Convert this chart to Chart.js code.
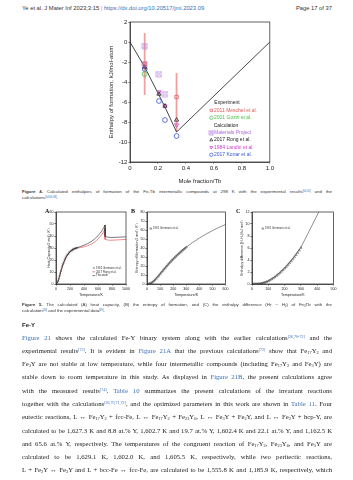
<!DOCTYPE html>
<html>
<head>
<meta charset="utf-8">
<title>Fe-Tb enthalpy of formation</title>
<script src="https://cdn.jsdelivr.net/npm/chart.js@4.4.1/dist/chart.umd.min.js"></script>
<style>
  html, body { margin: 0; padding: 0; background: #fff; }
  body { width: 353px; height: 480px; position: relative; overflow: hidden;
         font-family: "Liberation Sans", Arial, sans-serif; color: #333; }
  .box { position: absolute; }
  canvas { display: block; }
  .blue { color: #3a6fb5; }
  #hdr { left: 22px; top: 5px; font-size: 5.8px; line-height: 6px; white-space: nowrap; }
  #page { right: 21px; top: 5px; font-size: 5.8px; line-height: 6px; white-space: nowrap; }
  .cap { left: 22px; width: 310px; font-size: 4.4px; color: #333; }
  .cap div, .txt div { white-space: nowrap; }
  .cap div { height: 5.5px; line-height: 5.5px; }
  sup { font-size: 60%; line-height: 0; vertical-align: 0.5em; }
  sub { font-size: 65%; line-height: 0; vertical-align: -0.3em; }
  .lbl { font: bold 6px "Liberation Serif", serif; color: #111; }
  #fey { left: 22px; top: 322px; font: bold 6px "Liberation Sans", sans-serif; color: #222; }
  .txt { left: 22px; top: 330.5px; width: 310px; font: 6.7px "Liberation Serif", serif; color: #222; }
  .txt div { height: 13.3px; line-height: 13.3px; }
</style>
</head>
<body>

<div id="hdr" class="box">Ye et al. J Mater Inf 2023;3:15 <span style="color:#999">|</span> <span class="blue">https://dx.doi.org/10.20517/jmi.2023.09</span></div>
<div id="page" class="box">Page 17 of 37</div>

<canvas id="fig4" class="box" style="left:95px;top:12px" width="180" height="173"></canvas>

<div class="box cap" style="top:189px">
<div class="j"><b>Figure 4.</b> Calculated enthalpies of formation of the Fe-Tb intermetallic compounds at 298 K with the experimental results<sup class="blue">[64,65]</sup> and the</div>
<div>calculations<sup class="blue">[44,66-68]</sup>.</div>
</div>

<canvas id="figA" class="box" style="left:38px;top:206px" width="93" height="92"></canvas>
<canvas id="figB" class="box" style="left:126px;top:206px" width="104" height="92"></canvas>
<canvas id="figC" class="box" style="left:230px;top:206px" width="108" height="92"></canvas>
<div class="box lbl" style="left:45px;top:208px">A</div>
<div class="box lbl" style="left:131px;top:208px">B</div>
<div class="box lbl" style="left:236px;top:208px">C</div>

<div class="box cap" style="top:302px">
<div class="j"><b>Figure 5.</b> The calculated (A) heat capacity, (B) the entropy of formation, and (C) the enthalpy difference (<i>H</i><sub>T</sub> &minus; <i>H</i><sub>0</sub>) of Fe<sub>3</sub>Tb with the</div>
<div>calculation<sup class="blue">[44]</sup> and the experimental data<sup class="blue">[69]</sup>.</div>
</div>

<div id="fey" class="box">Fe-Y</div>
<div class="box txt">
<div class="j"><span class="blue">Figure 21</span> shows the calculated Fe-Y binary system along with the earlier calculations<sup class="blue">[26,70-72]</sup> and the</div>
<div class="j">experimental results<sup class="blue">[73]</sup>. It is evident in <span class="blue">Figure 21A</span> that the previous calculations<sup class="blue">[72]</sup> show that Fe<sub>17</sub>Y<sub>2</sub> and</div>
<div class="j">Fe<sub>3</sub>Y are not stable at low temperature, while four intermetallic compounds (including Fe<sub>17</sub>Y<sub>2</sub> and Fe<sub>3</sub>Y) are</div>
<div class="j">stable down to room temperature in this study. As displayed in <span class="blue">Figure 21B</span>, the present calculations agree</div>
<div class="j">with the measured results<sup class="blue">[74]</sup>. <span class="blue">Table 10</span> summarizes the present calculations of the invariant reactions</div>
<div class="j">together with the calculations<sup class="blue">[26,70,71,72]</sup>, and the optimized parameters in this work are shown in <span class="blue">Table 11</span>. Four</div>
<div class="j">eutectic reactions, L &harr; Fe<sub>17</sub>Y<sub>2</sub> + fcc-Fe, L &harr; Fe<sub>17</sub>Y<sub>2</sub> + Fe<sub>23</sub>Y<sub>6</sub>, L &harr; Fe<sub>3</sub>Y + Fe<sub>2</sub>Y, and L &harr; Fe<sub>2</sub>Y + hcp-Y, are</div>
<div class="j">calculated to be 1,627.3 K and 8.8 at.% Y, 1,602.7 K and 19.7 at.% Y, 1,602.4 K and 22.1 at.% Y, and 1,162.5 K</div>
<div class="j">and 65.6 at.% Y, respectively. The temperatures of the congruent reaction of Fe<sub>17</sub>Y<sub>2</sub>, Fe<sub>23</sub>Y<sub>6</sub>, and Fe<sub>3</sub>Y are</div>
<div class="j">calculated to be 1,629.1 K, 1,602.0 K, and 1,605.5 K, respectively, while two peritectic reactions,</div>
<div class="j">L + Fe<sub>2</sub>Y &harr; Fe<sub>3</sub>Y and L + bcc-Fe &harr; fcc-Fe, are calculated to be 1,555.8 K and 1,185.9 K, respectively, which</div>
</div>

<script>
// ---- Figure 4: enthalpy of formation (kJ/mol-atom) vs mole fraction Tb ----
const hullX = [0, 0.105, 0.207, 0.25, 0.333, 1];
const hullY = [0, -2.5, -5.3, -6.5, -9.0, 0];

const meschelX = [0.105, 0.333];
const meschelY = [-2.2, -5.5];
const meschelLo = [-5.3, -9.0];
const meschelHi = [0.9, -3.1];

const gozziX = [0.105];
const gozziY = [-3.2];
const gozziLo = [-3.7];
const gozziHi = [-2.7];

const mpX = [0.105, 0.105, 0.207, 0.25];
const mpY = [-0.4, -2.2, -3.2, -5.2];

const rongX = [0.105, 0.207, 0.25, 0.333];
const rongY = [-2.5, -5.2, -6.4, -7.8];

const landinX = [0.207, 0.25, 0.333];
const landinY = [-5.0, -6.4, -8.3];

const konarX = [0.105, 0.207, 0.25, 0.333];
const konarY = [-2.7, -5.9, -7.8, -9.4];

// ---- Figure 5A: heat capacity ----
const germanoT = [10, 20, 30, 40, 50, 60, 70, 80, 90, 100, 110, 120, 130, 140, 150,
                  160, 170, 180, 190, 200, 210, 220, 230, 240, 250, 260, 270, 280, 290, 300];
const germanoCp = [0.3, 1.2, 2.6, 4.5, 6.6, 8.8, 10.9, 12.9, 14.8, 16.5, 18.1, 19.6, 20.9, 22.1, 23.1,
                   24.0, 24.9, 25.6, 26.3, 26.9, 27.4, 27.9, 28.3, 28.7, 29.0, 29.3, 29.6, 29.8, 30.0, 30.2];
const cpT = [0, 25, 50, 75, 100, 150, 200, 250, 300, 350, 400, 450, 500, 550, 600, 650, 690, 700, 701, 750, 800, 900, 1000];
const cpThisWork = [0, 1.4, 6.2, 11.8, 16.5, 23.1, 26.9, 29.0, 30.2, 31.2, 32.3, 33.6, 35.2, 37.4, 40.2, 43.8, 47.8, 49.2, 39.6, 38.9, 38.8, 39.0, 39.3];
const cpRong = [0, 1.4, 6.2, 11.8, 16.5, 23.1, 26.9, 29.0, 30.0, 30.4, 31.0, 31.8, 33.0, 34.9, 37.5, 40.8, 44.6, 46.2, 37.2, 36.5, 36.5, 36.8, 37.2];

// ---- Figure 5B: entropy ----
const germanoS = [0.1, 0.4, 1.0, 1.9, 3.1, 4.4, 5.9, 7.6, 9.3, 11.1, 12.9, 14.7, 16.4, 18.1, 19.8,
                  21.5, 23.1, 24.7, 26.2, 27.7, 29.2, 30.6, 32.0, 33.4, 34.7, 36.0, 37.3, 38.5, 39.7, 40.9];
const sT = [0, 25, 50, 75, 100, 150, 200, 250, 300, 350, 400, 450, 500, 550, 600];
const sThisWork = [0, 0.1, 3.0, 7.0, 11.1, 19.8, 27.7, 34.7, 40.9, 46.3, 51.1, 55.4, 59.3, 62.9, 66.2];

// ---- Figure 5C: enthalpy difference ----
const germanoH = [0, 0.01, 0.02, 0.04, 0.07, 0.12, 0.19, 0.28, 0.38, 0.5, 0.64, 0.8, 0.97, 1.16, 1.37,
                  1.59, 1.82, 2.07, 2.33, 2.6, 2.88, 3.18, 3.49, 3.81, 4.14, 4.48, 4.84, 5.21, 5.62, 6.05];
const hT = [0, 50, 100, 150, 200, 250, 300, 350, 400, 410];
const hThisWork = [0, 0.07, 0.5, 1.4, 2.65, 4.25, 6.1, 8.8, 11.5, 12.0];

Chart.defaults.animation = false;
Chart.defaults.font.family = '"Liberation Sans", Arial, sans-serif';
Chart.defaults.color = '#222';

const pts = (xs, ys) => xs.map((x, i) => ({ x: x, y: ys[i] }));
const clear = 'rgba(0,0,0,0)';

// stretch each text line to the column width with word spacing
function justify(width) {
  document.querySelectorAll('.j').forEach(el => {
    const r = document.createRange();
    r.selectNodeContents(el);
    const natural = r.getBoundingClientRect().width;
    const spaces = (el.textContent.match(/ /g) || []).length;
    if (spaces) el.style.wordSpacing = ((width - natural) / spaces) + 'px';
  });
}
justify(310);

// square with a cross in it, used as a point style
function boxX(color, r) {
  const s = Math.ceil(r * 2 + 2);
  const c = document.createElement('canvas');
  c.width = s; c.height = s;
  const g = c.getContext('2d');
  g.strokeStyle = color; g.lineWidth = 0.55;
  g.strokeRect(1, 1, s - 2, s - 2);
  g.beginPath();
  g.moveTo(1, 1); g.lineTo(s - 1, s - 1);
  g.moveTo(s - 1, 1); g.lineTo(1, s - 1);
  g.stroke();
  return c;
}

const frame = {
  id: 'frame',
  afterDraw(chart) {
    const { ctx, chartArea: a } = chart;
    ctx.save();
    ctx.strokeStyle = '#222';
    ctx.lineWidth = 0.7;
    ctx.strokeRect(a.left, a.top, a.right - a.left, a.bottom - a.top);
    ctx.restore();
  }
};

function keyPlugin(items, x0, y0, rowH, size) {
  return {
    id: 'key',
    afterDraw(chart) {
      const ctx = chart.ctx;
      ctx.save();
      ctx.font = size + 'px "Liberation Sans", Arial, sans-serif';
      ctx.textBaseline = 'middle';
      items.forEach((it, i) => {
        const y = y0 + i * rowH;
        if (it.header) {
          ctx.fillStyle = '#222';
          ctx.textAlign = 'center';
          ctx.fillText(it.text, it.cx, y);
          return;
        }
        ctx.textAlign = 'left';
        ctx.strokeStyle = it.color;
        if (it.line) {
          ctx.lineWidth = 0.6;
          ctx.beginPath();
          ctx.moveTo(x0 - size * 1.3, y);
          ctx.lineTo(x0 - 0.8, y);
          ctx.stroke();
        } else {
          ctx.fillStyle = clear;
          ctx.lineWidth = it.bw;
          Chart.helpers.drawPoint(ctx, { pointStyle: it.style, rotation: it.rot || 0, radius: it.r, borderWidth: it.bw }, x0 - it.r - 1, y);
        }
        ctx.fillStyle = it.textColor || it.color;
        ctx.fillText(it.text, x0, y);
      });
      ctx.restore();
    }
  };
}

function axis(min, max, step, size, fix, title, titlePad, fmt) {
  return {
    type: 'linear', min: min, max: max,
    afterFit: fix,
    ticks: { stepSize: step, autoSkip: false, maxRotation: 0, padding: 1, font: { size: size },
             callback: fmt || (v => String(v)) },
    grid: { drawOnChartArea: false, tickLength: 1.6, color: '#222', lineWidth: 0.6 },
    border: { color: '#222', width: 0.7 },
    title: { display: true, text: title, font: { size: size }, padding: titlePad }
  };
}

// ---------- Figure 4 ----------
const red = '#e05a5a', green = '#4cbf4c', purple = '#a868dc', magenta = '#d23ad2', blue = '#3a55d8';
const mpSym = boxX(purple, 2.4);

const fig4Sets = [];
meschelX.forEach((x, i) => fig4Sets.push({
  data: [{ x: x, y: meschelLo[i] }, { x: x, y: meschelHi[i] }],
  showLine: true, borderColor: 'rgba(240,150,150,0.9)', borderWidth: 1.8, pointRadius: 0, order: 10
}));
gozziX.forEach((x, i) => fig4Sets.push({
  data: [{ x: x, y: gozziLo[i] }, { x: x, y: gozziHi[i] }],
  showLine: true, borderColor: 'rgba(140,220,140,0.9)', borderWidth: 1.8, pointRadius: 0, order: 10
}));
fig4Sets.push({ data: pts(hullX, hullY), showLine: true, borderColor: '#333', borderWidth: 0.9, pointRadius: 0, order: 9 });
fig4Sets.push({ data: pts(meschelX, meschelY), pointStyle: 'rect', pointRadius: 2.4, borderColor: red, backgroundColor: clear, borderWidth: 0.8, order: 1 });
fig4Sets.push({ data: pts(gozziX, gozziY), pointStyle: 'circle', pointRadius: 2.4, borderColor: green, backgroundColor: clear, borderWidth: 0.8, order: 1 });
fig4Sets.push({ data: pts(mpX, mpY), pointStyle: mpSym, pointRadius: 2.4, borderColor: purple, order: 1 });
fig4Sets.push({ data: pts(rongX, rongY), pointStyle: 'triangle', pointRadius: 2.4, borderColor: '#222', backgroundColor: clear, borderWidth: 0.8, order: 1 });
fig4Sets.push({ data: pts(landinX, landinY), pointStyle: 'triangle', rotation: 180, pointRadius: 2.4, borderColor: magenta, backgroundColor: clear, borderWidth: 0.8, order: 1 });
fig4Sets.push({ data: pts(konarX, konarY), pointStyle: 'circle', pointRadius: 2.4, borderColor: blue, backgroundColor: clear, borderWidth: 0.8, order: 1 });

const fig4Key = [
  { header: true, text: 'Experiment', cx: 132 },
  { text: '2011 Meschel et al.', color: red, style: 'rect', r: 1.7, bw: 0.7 },
  { text: '2001 Gozzi et al.', color: green, style: 'circle', r: 1.7, bw: 0.7 },
  { header: true, text: 'Calculation', cx: 131 },
  { text: 'Materials Project', color: purple, style: boxX(purple, 1.7), r: 1.7, bw: 0.7 },
  { text: '2017 Rong et al.', color: '#222', style: 'triangle', r: 1.7, bw: 0.7 },
  { text: '1984 Landin et al.', color: magenta, style: 'triangle', rot: 180, r: 1.7, bw: 0.7 },
  { text: '2017 Konar et al.', color: blue, style: 'circle', r: 1.7, bw: 0.7 }
];

new Chart(document.getElementById('fig4'), {
  type: 'scatter',
  data: { datasets: fig4Sets },
  options: {
    responsive: false,
    layout: { padding: { top: 10, right: 5, left: 0, bottom: 0 } },
    plugins: { legend: { display: false }, tooltip: { enabled: false } },
    scales: {
      x: axis(0, 1, 0.2, 6, s => { s.height = 23; }, 'Mole fraction/Tb', 0,
              v => v === 0 ? '0' : v.toFixed(1)),
      y: axis(-12, 2, 2, 6, s => { s.width = 35; }, 'Enthalpy of formation, kJ/mol-atom', { top: 12.4, bottom: 0 })
    }
  },
  plugins: [frame, keyPlugin(fig4Key, 119, 91, 7.4, 5)]
});

// ---------- Figure 5 panels ----------
function panel(id, sets, xr, yr, yTitle, yw, yPad, key) {
  new Chart(document.getElementById(id), {
    type: 'scatter',
    data: { datasets: sets },
    options: {
      responsive: false,
      layout: { padding: { top: 6, right: 4, left: 0, bottom: 1 } },
      plugins: { legend: { display: false }, tooltip: { enabled: false } },
      scales: {
        x: axis(xr[0], xr[1], xr[2], 3.6, s => { s.height = 13; }, 'Temperature/K', 0),
        y: axis(yr[0], yr[1], yr[2], 3.6, s => { s.width = yw; }, yTitle, { top: yPad, bottom: 0 })
      }
    },
    plugins: [frame, key]
  });
}

const germanoSym = { pointStyle: 'crossRot', pointRadius: 1.3, borderColor: '#333', borderWidth: 0.45 };
const triSym = { pointStyle: 'triangle', pointRadius: 1.3, borderColor: '#333', backgroundColor: clear, borderWidth: 0.45 };

panel('figA', [
  Object.assign({ data: pts(germanoT, germanoCp), order: 1 }, germanoSym),
  { data: pts(cpT, cpRong), showLine: true, borderColor: '#e04040', borderWidth: 0.6, pointRadius: 0, order: 3 },
  { data: pts(cpT, cpThisWork), showLine: true, borderColor: '#222', borderWidth: 0.6, pointRadius: 0, order: 2 }
], [0, 1000, 200], [0, 60, 10], 'Heat Capacity/J mol\u207B\u00B9 K\u207B\u00B9', 18, 8.8,
  keyPlugin([
    { text: '1981 Germano et al.', color: '#333', style: 'crossRot', r: 1.2, bw: 0.45 },
    { text: '2017 Rong et al.', color: '#e04040', textColor: '#333', line: true },
    { text: 'This work', color: '#222', line: true }
  ], 58, 62, 3.8, 2.8));

panel('figB', [
  Object.assign({ data: pts(germanoT, germanoS), order: 1 }, triSym),
  { data: pts(sT, sThisWork), showLine: true, borderColor: '#444', borderWidth: 0.6, pointRadius: 0, order: 2 }
], [0, 600, 100], [0, 80, 10], 'Entropy of formation/J mol\u207B\u00B9 K\u207B\u00B9', 21, 8.8,
  keyPlugin([{ text: '1981 Germano et al.', color: '#333', style: 'triangle', r: 1.2, bw: 0.45 }], 27, 22.6, 4, 2.8));

panel('figC', [
  Object.assign({ data: pts(germanoT, germanoH), order: 1 }, triSym),
  { data: pts(hT, hThisWork), showLine: true, borderColor: '#444', borderWidth: 0.6, pointRadius: 0, order: 2 }
], [0, 500, 100], [0, 12, 2], 'Enthalpy difference (H-H\u2080)/kJ mol\u207B\u00B9', 22, 9.8,
  keyPlugin([{ text: '1981 Germano et al.', color: '#333', style: 'triangle', r: 1.2, bw: 0.45 }], 35, 22.6, 4, 2.8));
</script>
</body>
</html>
